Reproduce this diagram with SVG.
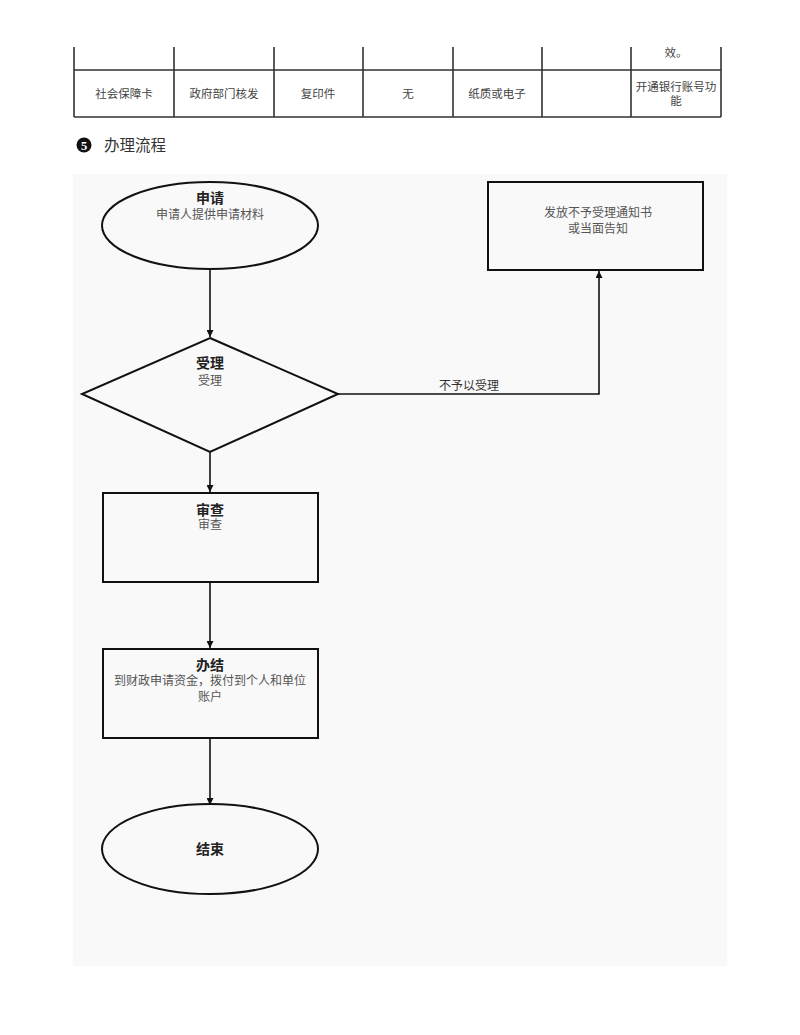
<svg xmlns="http://www.w3.org/2000/svg" width="800" height="1035" viewBox="0 0 800 1035">
<style>
text{font-family:"Liberation Serif","Noto Sans CJK SC",serif;}
.cell{font-size:11.5px;fill:#444;text-anchor:middle;}
.tl{stroke:#333;stroke-width:1.6;fill:none;}
.shape{fill:none;stroke:#111;stroke-width:2;}
.title{font-size:14px;font-weight:bold;fill:#222;text-anchor:middle;}
.sub{font-size:12px;fill:#555;text-anchor:middle;}
.conn{stroke:#111;stroke-width:1.6;fill:none;}
.lbl{font-size:12px;fill:#333;text-anchor:middle;}
</style>
<defs>
<marker id="arr" viewBox="0 0 8 8" refX="8" refY="4" markerWidth="7" markerHeight="7" markerUnits="userSpaceOnUse" orient="auto">
<path d="M0,0 L8,4 L0,8 z" fill="#111"/>
</marker>
</defs>
<rect width="800" height="1035" fill="#fff"/>
<g id="table">
<path class="tl" d="M74,47 V117 M174,47 V117 M274,47 V117 M363,47 V117 M453,47 V117 M542,47 V117 M631,47 V117 M721,47 V117 M74,70 H721 M74,117 H721"/>
<text class="cell" x="676" y="57">效。</text>
<text class="cell" x="124" y="98">社会保障卡</text>
<text class="cell" x="224" y="98">政府部门核发</text>
<text class="cell" x="318" y="98">复印件</text>
<text class="cell" x="408" y="98">无</text>
<text class="cell" x="497" y="98">纸质或电子</text>
<text class="cell" x="676" y="91">开通银行账号功</text>
<text class="cell" x="676" y="105">能</text>
</g>
<g id="heading">
<circle cx="84" cy="145" r="7.5" fill="#111"/>
<text x="84" y="149.5" font-size="12.5" font-weight="bold" fill="#fff" text-anchor="middle">5</text>
<text x="104" y="151" font-size="15.5" fill="#333">办理流程</text>
</g>
<rect id="canvas" x="73" y="174" width="654" height="792" fill="#f9f9f9"/>
<g id="connectors">
<path class="conn" d="M210,269 V337" marker-end="url(#arr)"/>
<path class="conn" d="M210,452 V492" marker-end="url(#arr)"/>
<path class="conn" d="M210,582 V648" marker-end="url(#arr)"/>
<path class="conn" d="M210,738 V805" marker-end="url(#arr)"/>
<path class="conn" d="M338,394 H599 V271" marker-end="url(#arr)"/>
<text class="lbl" x="469" y="390">不予以受理</text>
</g>
<g id="node-apply">
<ellipse class="shape" cx="210" cy="225.5" rx="108" ry="43.5"/>
<text class="title" x="210" y="203">申请</text>
<text class="sub" x="210" y="219">申请人提供申请材料</text>
</g>
<g id="node-reject">
<rect class="shape" x="488" y="182" width="215" height="88"/>
<text class="sub" x="598" y="217">发放不予受理通知书</text>
<text class="sub" x="598" y="233">或当面告知</text>
</g>
<g id="node-accept">
<polygon class="shape" points="210,338 338,394 210,452 82,394"/>
<text class="title" x="210" y="368">受理</text>
<text class="sub" x="210" y="385">受理</text>
</g>
<g id="node-review">
<rect class="shape" x="103" y="493" width="215" height="89"/>
<text class="title" x="210" y="515">审查</text>
<text class="sub" x="210" y="529">审查</text>
</g>
<g id="node-finish">
<rect class="shape" x="103" y="649" width="215" height="89"/>
<text class="title" x="210" y="670">办结</text>
<text class="sub" x="210" y="685">到财政申请资金，拨付到个人和单位</text>
<text class="sub" x="210" y="701">账户</text>
</g>
<g id="node-end">
<ellipse class="shape" cx="210" cy="849" rx="108" ry="45"/>
<text class="title" x="210" y="854">结束</text>
</g>
</svg>
